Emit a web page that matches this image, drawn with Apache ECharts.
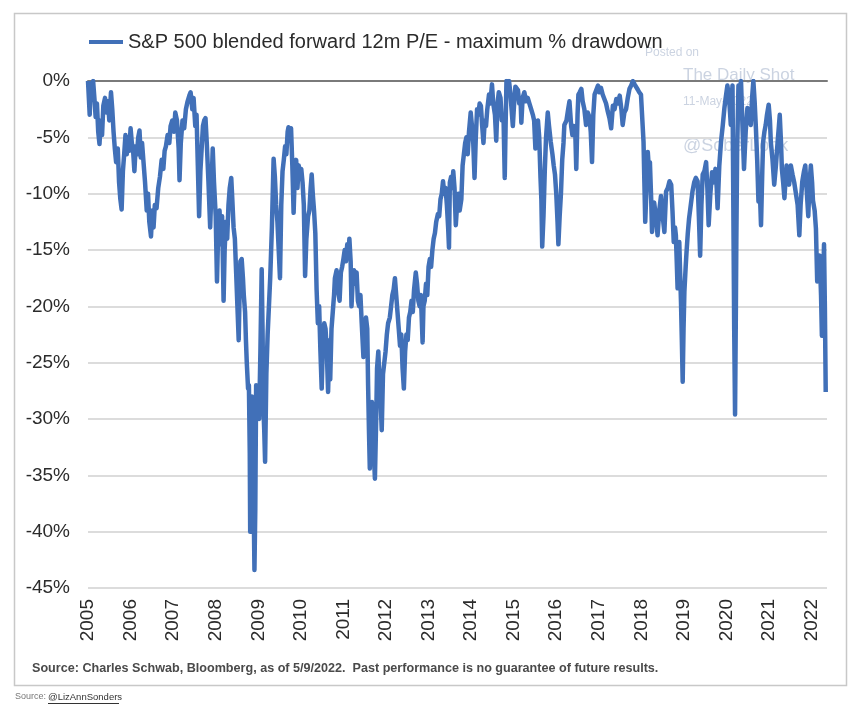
<!DOCTYPE html>
<html>
<head>
<meta charset="utf-8">
<script src="https://cdn.jsdelivr.net/npm/echarts@6/dist/echarts.min.js"></script>
<style>
html,body{margin:0;padding:0;background:#fff;}
#chart{width:857px;height:719px;}
</style>
</head>
<body>
<div id="chart"></div>
<script>
// Decimal-year / drawdown (%) pairs
const pts2005_2007 = [[2005.00,0],[2005.02,-1.5],[2005.04,-3.0],[2005.06,-0.5],[2005.09,-0.2],[2005.12,0],[2005.15,-1.5],[2005.18,-3.2],[2005.21,-2.0],[2005.24,-4.5],[2005.27,-5.6],[2005.30,-3.5],[2005.33,-4.8],[2005.36,-2.2],[2005.40,-1.5],[2005.43,-2.8],[2005.47,-1.8],[2005.50,-3.5],[2005.54,-1.0],[2005.57,-2.5],[2005.60,-4.5],[2005.63,-6.0],[2005.66,-7.2],[2005.70,-6.0],[2005.73,-9.0],[2005.76,-10.5],[2005.79,-11.4],[2005.82,-8.0],[2005.85,-6.5],[2005.88,-4.8],[2005.91,-6.5],[2005.94,-5.0],[2005.97,-6.2],[2006.00,-4.2],[2006.03,-5.5],[2006.06,-6.2],[2006.09,-8.0],[2006.12,-5.8],[2006.15,-6.5],[2006.18,-5.0],[2006.21,-4.4],[2006.24,-6.8],[2006.27,-5.5],[2006.30,-7.0],[2006.34,-9.0],[2006.38,-11.5],[2006.41,-10.0],[2006.44,-12.5],[2006.48,-13.8],[2006.51,-11.5],[2006.54,-13.0],[2006.57,-11.0],[2006.61,-11.3],[2006.65,-9.5],[2006.69,-8.5],[2006.73,-7.0],[2006.77,-7.8],[2006.80,-6.2],[2006.83,-5.8],[2006.87,-4.8],[2006.91,-5.5],[2006.94,-4.0],[2006.98,-3.5],[2007.02,-4.5],[2007.05,-2.8],[2007.09,-3.5],[2007.13,-6.0],[2007.15,-8.8],[2007.18,-5.5],[2007.22,-3.5],[2007.26,-4.2],[2007.30,-2.5],[2007.34,-1.8],[2007.38,-1.3],[2007.41,-1.0],[2007.45,-2.5],[2007.48,-1.5],[2007.52,-4.0],[2007.55,-3.0],[2007.58,-7.5],[2007.61,-12.0],[2007.64,-8.0],[2007.67,-6.0],[2007.70,-4.0],[2007.73,-3.5],[2007.76,-3.3]];
const pts2007_2010 = [[2007.79,-5.5],[2007.83,-9.0],[2007.87,-13.0],[2007.90,-9.5],[2007.93,-6.0],[2007.96,-9.0],[2008.00,-12.0],[2008.03,-17.8],[2008.06,-13.0],[2008.09,-11.5],[2008.12,-14.5],[2008.15,-12.0],[2008.185,-19.5],[2008.21,-15.0],[2008.24,-12.5],[2008.27,-14.0],[2008.30,-11.0],[2008.33,-9.5],[2008.365,-8.6],[2008.39,-10.5],[2008.42,-13.0],[2008.45,-14.0],[2008.48,-17.0],[2008.51,-20.0],[2008.54,-23.0],[2008.56,-19.0],[2008.58,-16.0],[2008.61,-15.8],[2008.64,-17.5],[2008.66,-19.0],[2008.69,-20.5],[2008.71,-23.0],[2008.73,-25.0],[2008.76,-27.3],[2008.78,-27.0],[2008.80,-33.0],[2008.81,-40.0],[2008.83,-36.0],[2008.85,-28.0],[2008.87,-30.0],[2008.89,-37.0],[2008.91,-43.4],[2008.93,-38.0],[2008.95,-27.0],[2008.97,-29.0],[2009.00,-28.0],[2009.02,-30.0],[2009.05,-24.0],[2009.08,-16.7],[2009.10,-22.0],[2009.12,-29.0],[2009.14,-31.0],[2009.16,-33.8],[2009.19,-26.0],[2009.22,-22.5],[2009.25,-20.0],[2009.28,-17.5],[2009.32,-13.0],[2009.36,-6.9],[2009.39,-8.5],[2009.42,-11.0],[2009.45,-12.5],[2009.48,-15.0],[2009.51,-17.5],[2009.54,-11.0],[2009.57,-8.0],[2009.60,-7.0],[2009.63,-5.8],[2009.66,-6.5],[2009.69,-4.5],[2009.71,-4.1],[2009.74,-5.0],[2009.77,-4.2],[2009.80,-7.5],[2009.83,-11.7],[2009.86,-8.0],[2009.89,-7.0],[2009.92,-9.5],[2009.95,-7.5],[2009.98,-8.5],[2010.01,-7.8],[2010.04,-9.0],[2010.07,-11.0],[2010.10,-17.3],[2010.13,-14.0],[2010.17,-12.0],[2010.20,-11.5],[2010.23,-9.5],[2010.255,-8.3],[2010.28,-10.0],[2010.31,-11.5],[2010.34,-13.5],[2010.37,-18.5],[2010.40,-21.5],[2010.43,-20.0],[2010.46,-24.0],[2010.49,-27.3],[2010.52,-23.0],[2010.55,-21.5],[2010.58,-22.0],[2010.61,-24.0],[2010.64,-27.6],[2010.67,-23.0]];
const pts2010_2013 = [[2010.69,-26.5],[2010.72,-22.0],[2010.75,-20.5],[2010.78,-19.0],[2010.80,-17.5],[2010.84,-16.8],[2010.87,-18.5],[2010.91,-19.5],[2010.94,-17.0],[2010.97,-16.5],[2011.00,-15.8],[2011.03,-15.0],[2011.06,-16.0],[2011.09,-14.5],[2011.12,-15.5],[2011.14,-14.0],[2011.17,-16.0],[2011.19,-20.0],[2011.22,-17.5],[2011.25,-16.8],[2011.28,-18.0],[2011.31,-17.0],[2011.34,-19.5],[2011.37,-20.0],[2011.40,-19.0],[2011.43,-21.5],[2011.47,-24.5],[2011.50,-23.0],[2011.53,-21.0],[2011.56,-22.0],[2011.58,-27.0],[2011.60,-31.0],[2011.62,-34.4],[2011.65,-30.0],[2011.67,-28.5],[2011.70,-31.0],[2011.72,-33.5],[2011.74,-35.3],[2011.77,-30.0],[2011.79,-25.5],[2011.82,-24.0],[2011.85,-27.0],[2011.88,-29.0],[2011.90,-31.0],[2011.93,-26.0],[2011.96,-25.0],[2011.99,-24.0],[2012.02,-22.5],[2012.05,-21.5],[2012.09,-21.0],[2012.12,-20.0],[2012.15,-19.0],[2012.18,-18.5],[2012.21,-17.5],[2012.24,-19.0],[2012.27,-20.5],[2012.30,-22.0],[2012.33,-23.5],[2012.36,-22.5],[2012.39,-25.5],[2012.42,-27.3],[2012.45,-24.0],[2012.48,-22.5],[2012.51,-23.0],[2012.54,-21.0],[2012.57,-20.5],[2012.60,-19.5],[2012.63,-20.5],[2012.66,-18.5],[2012.70,-17.0],[2012.73,-18.0],[2012.76,-19.5],[2012.79,-20.0],[2012.82,-19.0],[2012.86,-23.2],[2012.88,-20.0],[2012.91,-19.5],[2012.94,-18.0],[2012.97,-19.0],[2013.00,-16.5],[2013.03,-15.8],[2013.06,-16.5],[2013.09,-15.0],[2013.12,-14.0],[2013.15,-13.5],[2013.18,-12.5],[2013.22,-11.8],[2013.25,-12.0],[2013.28,-10.5],[2013.31,-10.0],[2013.34,-8.9],[2013.37,-10.0],[2013.40,-9.5],[2013.43,-11.0],[2013.46,-13.0],[2013.48,-14.8],[2013.50,-9.0],[2013.53,-8.5],[2013.56,-9.5],[2013.58,-8.0],[2013.61,-9.5],[2013.64,-12.8],[2013.67,-11.0],[2013.70,-10.0]];
const pts2013_2016 = [[2013.73,-11.5],[2013.77,-10.5],[2013.80,-7.5],[2013.83,-6.5],[2013.86,-5.5],[2013.89,-5.0],[2013.92,-6.5],[2013.95,-4.5],[2013.99,-2.8],[2014.02,-4.0],[2014.05,-5.5],[2014.08,-8.6],[2014.11,-5.0],[2014.14,-2.5],[2014.17,-3.0],[2014.20,-2.0],[2014.23,-2.2],[2014.26,-4.0],[2014.29,-5.5],[2014.32,-3.5],[2014.35,-4.0],[2014.38,-2.5],[2014.42,-1.2],[2014.45,-2.0],[2014.49,-0.3],[2014.52,-2.0],[2014.56,-3.0],[2014.59,-5.3],[2014.62,-2.0],[2014.65,-1.0],[2014.69,-1.5],[2014.72,-3.5],[2014.76,-3.0],[2014.79,-8.6],[2014.81,-4.0],[2014.83,0],[2014.86,-0.2],[2014.89,0],[2014.92,-1.0],[2014.95,-2.5],[2014.98,-4.0],[2015.01,-2.0],[2015.04,-0.5],[2015.07,-0.5],[2015.10,-0.8],[2015.13,-2.0],[2015.16,-1.5],[2015.18,-3.7],[2015.21,-1.5],[2015.25,-1.0],[2015.29,-1.8],[2015.33,-1.5],[2015.37,-2.0],[2015.41,-2.5],[2015.45,-3.0],[2015.48,-3.5],[2015.51,-6.0],[2015.54,-4.0],[2015.57,-3.5],[2015.60,-5.0],[2015.63,-8.6],[2015.65,-10.5],[2015.67,-14.7],[2015.70,-12.0],[2015.73,-8.0],[2015.76,-5.0],[2015.80,-2.8],[2015.83,-4.0],[2015.87,-5.4],[2015.91,-6.5],[2015.94,-7.5],[2015.97,-8.3],[2016.00,-10.0],[2016.03,-12.5],[2016.05,-14.5],[2016.08,-12.0],[2016.11,-10.0],[2016.14,-7.0],[2016.17,-5.5],[2016.19,-3.9],[2016.24,-3.5],[2016.28,-2.5],[2016.31,-1.8],[2016.35,-4.0],[2016.38,-4.8],[2016.41,-4.0],[2016.45,-5.0],[2016.47,-7.8],[2016.50,-3.0],[2016.52,-1.2]];
const pts2016_2019 = [[2016.55,-1.0],[2016.59,-0.7],[2016.62,-1.8],[2016.66,-2.5],[2016.70,-3.9],[2016.74,-2.8],[2016.78,-3.2],[2016.81,-4.5],[2016.84,-7.2],[2016.87,-3.0],[2016.90,-1.2],[2016.94,-0.8],[2016.98,-0.4],[2017.01,-1.0],[2017.05,-0.6],[2017.09,-1.2],[2017.13,-1.2],[2017.17,-2.0],[2017.21,-2.7],[2017.25,-3.3],[2017.29,-4.2],[2017.33,-2.2],[2017.37,-2.5],[2017.41,-1.6],[2017.45,-2.0],[2017.49,-1.3],[2017.53,-2.5],[2017.56,-3.9],[2017.60,-2.8],[2017.64,-2.5],[2017.68,-1.5],[2017.72,-0.7],[2017.76,-0.4],[2017.80,0],[2017.84,-0.3],[2017.88,-0.4],[2017.92,-0.8],[2017.95,-1.0],[2017.99,-1.2],[2018.02,-1.2],[2018.05,-5.4],[2018.07,-9.0],[2018.09,-12.5],[2018.12,-9.5],[2018.15,-6.3],[2018.18,-8.0],[2018.20,-7.2],[2018.23,-10.5],[2018.25,-13.4],[2018.28,-11.0],[2018.30,-10.8],[2018.34,-12.0],[2018.38,-13.7],[2018.42,-11.5],[2018.46,-10.2],[2018.50,-12.0],[2018.54,-13.4],[2018.58,-9.8],[2018.62,-9.5],[2018.66,-8.9],[2018.70,-9.2],[2018.73,-11.5],[2018.76,-14.3],[2018.79,-13.0],[2018.81,-13.7],[2018.83,-16.0],[2018.85,-18.4],[2018.87,-16.5],[2018.89,-14.3],[2018.91,-17.0],[2018.93,-19.6],[2018.95,-23.0],[2018.97,-26.7],[2018.99,-22.0],[2019.01,-18.7],[2019.04,-16.5],[2019.06,-15.2],[2019.09,-13.5],[2019.12,-12.2],[2019.16,-11.0],[2019.20,-9.8],[2019.24,-9.0],[2019.28,-8.6],[2019.32,-8.9],[2019.35,-12.0],[2019.38,-15.5],[2019.41,-11.0],[2019.44,-8.3]];
const pts2019_2022 = [[2019.48,-8.0],[2019.52,-7.2],[2019.55,-9.5],[2019.58,-12.8],[2019.62,-10.0],[2019.66,-8.1],[2019.70,-9.0],[2019.74,-7.8],[2019.77,-9.5],[2019.79,-11.3],[2019.83,-7.5],[2019.87,-5.4],[2019.91,-4.0],[2019.95,-2.4],[2019.98,-1.5],[2020.02,-0.4],[2020.06,-1.5],[2020.10,-3.9],[2020.12,-1.5],[2020.14,-0.4],[2020.16,-11.3],[2020.18,-22.0],[2020.20,-29.6],[2020.22,-20.0],[2020.23,-14.3],[2020.25,-6.0],[2020.28,-0.4],[2020.31,-0.8],[2020.34,0],[2020.37,-3.5],[2020.41,-7.8],[2020.45,-4.5],[2020.49,-2.4],[2020.53,-3.0],[2020.57,-3.9],[2020.60,-1.5],[2020.63,0],[2020.66,-1.8],[2020.69,-4.2],[2020.72,-7.0],[2020.75,-10.7],[2020.78,-9.5],[2020.81,-12.8],[2020.84,-8.0],[2020.86,-5.4],[2020.89,-4.5],[2020.92,-3.9],[2020.95,-3.0],[2020.99,-2.1],[2021.02,-3.5],[2021.04,-5.4],[2021.08,-7.0],[2021.12,-9.2],[2021.16,-7.5],[2021.20,-5.4],[2021.23,-4.0],[2021.25,-3.0],[2021.28,-5.5],[2021.30,-7.8],[2021.33,-9.0],[2021.36,-10.4],[2021.39,-8.5],[2021.41,-7.5],[2021.44,-8.5],[2021.47,-9.2],[2021.51,-7.5],[2021.55,-8.3],[2021.59,-9.0],[2021.63,-10.0],[2021.67,-11.0],[2021.71,-13.7],[2021.74,-11.0],[2021.78,-8.9],[2021.82,-8.0],[2021.85,-7.5],[2021.88,-9.5],[2021.92,-12.0],[2021.95,-9.0],[2021.98,-7.5],[2022.01,-9.0],[2022.03,-10.6],[2022.07,-11.5],[2022.10,-13.1],[2022.13,-17.8],[2022.16,-16.0],[2022.19,-15.5],[2022.22,-19.0],[2022.24,-22.6],[2022.27,-17.8],[2022.29,-14.5],[2022.31,-20.0],[2022.33,-27.6]];

const yTicks = [-45,-40,-35,-30,-25,-20,-15,-10,-5,0];
const seriesName = 'S&P 500 blended forward 12m P/E - maximum % drawdown';
const sourceNote = 'Source: Charles Schwab, Bloomberg, as of 5/9/2022.  Past performance is no guarantee of future results.';

const data = [].concat(pts2005_2007, pts2007_2010, pts2010_2013, pts2013_2016, pts2016_2019, pts2019_2022);

const chart = echarts.init(document.getElementById('chart'), null, {renderer:'canvas'});
const FONT = '"Liberation Sans", Arial, sans-serif';
const wm = 'rgba(160,175,200,0.55)';
chart.setOption({
  backgroundColor:'#ffffff',
  animation:false,
  textStyle:{fontFamily:FONT},
  legend:{
    left:84, top:27,
    itemWidth:34, itemHeight:4, itemGap:6,
    icon:'rect',
    textStyle:{fontSize:20, color:'#2b2b2b', fontFamily:FONT},
    data:[seriesName]
  },
  grid:{left:88, right:30, top:81, bottom:131, containLabel:false},
  xAxis:[{
    type:'value', min:2005, max:2022.36, interval:1,
    axisLine:{show:false}, axisTick:{show:false}, splitLine:{show:false},
    axisLabel:{rotate:90, fontSize:19, color:'#2b2b2b', margin:11, fontFamily:FONT,
      formatter:v => (Number.isInteger(v) ? String(v) : '')}
  },{
    type:'value', position:'top', min:2005, max:2022.36,
    axisLine:{show:true, onZero:false, lineStyle:{color:'#7a7a7a', width:2}},
    axisTick:{show:false}, axisLabel:{show:false}, splitLine:{show:false}
  }],
  yAxis:{
    type:'value', min:-45, max:0, interval:5,
    axisLine:{show:false}, axisTick:{show:false},
    splitLine:{lineStyle:{color:['#dcdcdc','#dcdcdc','#dcdcdc','#dcdcdc','#dcdcdc','#dcdcdc','#dcdcdc','#dcdcdc','#dcdcdc','rgba(0,0,0,0)'], width:2}},
    axisLabel:{fontSize:19, color:'#2b2b2b', margin:18, fontFamily:FONT,
      formatter: v => (yTicks.includes(v) ? v + '%' : '')}
  },
  graphic:[
    {type:'rect', z:-10, shape:{x:14.5, y:13.5, width:832, height:672}, style:{fill:'none', stroke:'#c8c8c8', lineWidth:1.5}},
    {type:'text', z:-5, left:645, top:47, style:{text:'Posted on', fontSize:12, fill:wm, fontFamily:FONT}},
    {type:'text', z:-5, left:683, top:67, style:{text:'The Daily Shot', fontSize:17, fill:wm, fontFamily:FONT}},
    {type:'text', z:-5, left:683, top:96, style:{text:'11-May-2022', fontSize:12, fill:wm, fontFamily:FONT}},
    {type:'text', z:-5, left:683, top:137, style:{text:'@SoberLook', fontSize:18, fill:wm, fontFamily:FONT}},
    {type:'text', left:32, top:662, style:{text:sourceNote, fontSize:12.6, fill:'#4a4a4a', fontWeight:'bold', fontFamily:FONT}},
    {type:'text', left:15, top:692, style:{text:'Source:', fontSize:9, fill:'#777', fontFamily:FONT}},
    {type:'text', left:48, top:692, style:{text:'@LizAnnSonders', fontSize:9.5, fill:'#333', fontFamily:FONT}},
    {type:'line', shape:{x1:48, y1:703.5, x2:119, y2:703.5}, style:{stroke:'#333', lineWidth:1}}
  ],
  series:[{
    name:seriesName, type:'line', xAxisIndex:0, data:data,
    showSymbol:false, symbol:'none', smooth:false,
    color:'#4170b8',
    lineStyle:{color:'#4170b8', width:4.5, join:'round'}
  }]
});
</script>
</body>
</html>
